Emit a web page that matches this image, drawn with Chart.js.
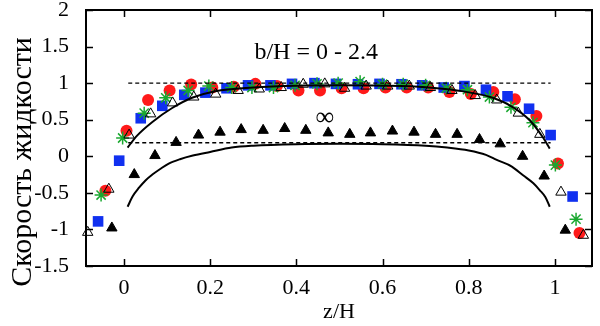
<!DOCTYPE html>
<html lang="ru">
<head>
<meta charset="UTF-8">
<title>Скорость жидкости</title>
<script src="https://cdn.jsdelivr.net/npm/chart.js"></script>
<style>
  html, body { margin: 0; padding: 0; background: #fff; }
</style>
</head>
<body>
<canvas id="grafico" width="600" height="326"></canvas>
<script>
// оси
const xTicks = [0, 0.2, 0.4, 0.6, 0.8, 1];
const yTicks = [-1.5, -1, -0.5, 0, 0.5, 1, 1.5, 2];

// красные кружки
const zRed = [-0.043, 0.006, 0.056, 0.106, 0.156, 0.205, 0.255, 0.305, 0.355, 0.405, 0.455, 0.505,
              0.556, 0.607, 0.656, 0.706, 0.755, 0.805, 0.857, 0.907, 0.957, 1.007, 1.057];
const vRed = [-0.47, 0.35, 0.77, 0.90, 0.98, 0.94, 0.95, 0.99, 0.96, 0.90, 0.90, 0.93,
              0.93, 0.94, 0.94, 0.94, 0.88, 0.85, 0.88, 0.78, 0.55, -0.10, -1.05];

// синие квадраты
const zBlue = [-0.060, -0.011, 0.039, 0.089, 0.140, 0.189, 0.238, 0.288, 0.340, 0.390, 0.442, 0.492,
               0.543, 0.593, 0.644, 0.692, 0.742, 0.790, 0.840, 0.890, 0.940, 0.990, 1.041];
const vBlue = [-0.89, -0.06, 0.52, 0.69, 0.84, 0.87, 0.93, 0.97, 0.97, 0.99, 1.00, 0.99,
               0.985, 0.99, 0.985, 0.97, 0.94, 0.96, 0.91, 0.82, 0.65, 0.29, -0.55];

// зелёные звёздочки
const zGreen = [-0.053, -0.003, 0.047, 0.097, 0.149, 0.197, 0.250, 0.297, 0.347, 0.397, 0.448, 0.497,
                0.548, 0.600, 0.648, 0.700, 0.748, 0.797, 0.848, 0.898, 0.949, 1.001, 1.049];
const vGreen = [-0.53, 0.25, 0.59, 0.80, 0.90, 0.96, 0.94, 0.94, 0.94, 0.97, 0.99, 1.00,
                1.02, 0.985, 0.985, 0.97, 0.93, 0.91, 0.81, 0.67, 0.46, -0.12, -0.86];

// пустые треугольники
const zOpen = [-0.084, -0.035, 0.012, 0.062, 0.113, 0.162, 0.213, 0.265, 0.314, 0.365, 0.416, 0.466,
               0.512, 0.562, 0.612, 0.662, 0.711, 0.761, 0.815, 0.865, 0.915, 0.965, 1.014, 1.066];
const vOpen = [-1.04, -0.45, 0.29, 0.58, 0.73, 0.81, 0.85, 0.90, 0.92, 0.94, 0.985, 0.99,
               0.93, 0.96, 0.96, 0.96, 0.94, 0.90, 0.83, 0.77, 0.59, 0.30, -0.49, -1.08];

// закрашенные треугольники (b/H = ∞)
const zTri = [-0.028, 0.024, 0.072, 0.121, 0.173, 0.223, 0.272, 0.323, 0.373, 0.422, 0.474,
              0.524, 0.572, 0.623, 0.673, 0.723, 0.773, 0.825, 0.873, 0.925, 0.975, 1.024];
const vTri = [-0.98, -0.25, 0.01, 0.19, 0.29, 0.33, 0.365, 0.355, 0.38, 0.355, 0.32,
              0.30, 0.32, 0.345, 0.33, 0.30, 0.30, 0.23, 0.17, 0.0, -0.27, -1.01];

// теория, верхняя кривая
const zUp = [0.0085, 0.03, 0.066, 0.112, 0.158, 0.212, 0.3, 0.4, 0.5, 0.6, 0.7, 0.773, 0.85, 0.903, 0.942, 0.972, 0.988];
const vUp = [0.12, 0.28, 0.47, 0.66, 0.80, 0.89, 0.94, 0.965, 0.97, 0.965, 0.945, 0.90, 0.81, 0.67, 0.49, 0.26, 0.105];

// теория, нижняя кривая
const zLow = [0.0085, 0.02, 0.035, 0.05, 0.066, 0.085, 0.104, 0.13, 0.16, 0.2, 0.25, 0.3, 0.4, 0.5,
              0.6, 0.7, 0.75, 0.8, 0.84, 0.865, 0.9, 0.926, 0.95, 0.965, 0.978, 0.988];
const vLow = [-0.69, -0.55, -0.43, -0.33, -0.25, -0.17, -0.10, -0.04, 0.01, 0.06, 0.12, 0.145, 0.165, 0.17,
              0.165, 0.145, 0.12, 0.08, 0.02, -0.05, -0.14, -0.26, -0.37, -0.465, -0.56, -0.69];

// пунктирные уровни
const zDash = [0.01, 0.99];
const vDash1 = [1, 1];
const vDash2 = [0.185, 0.185];

const pts = (zs, vs) => zs.map((z, i) => ({ x: z, y: vs[i] }));

const ramka = {
  id: 'ramka',
  afterDraw(chart) {
    const { ctx, chartArea: a, scales: { x, y } } = chart;
    ctx.save();
    ctx.strokeStyle = '#000';
    ctx.lineWidth = 1.5;
    ctx.beginPath();
    xTicks.forEach(v => {
      const px = Math.round(x.getPixelForValue(v)) + 0.5;
      ctx.moveTo(px, a.bottom); ctx.lineTo(px, a.bottom - 7);
      ctx.moveTo(px, a.top); ctx.lineTo(px, a.top + 7);
    });
    yTicks.forEach(v => {
      const py = Math.round(y.getPixelForValue(v)) + 0.5;
      ctx.moveTo(a.left, py); ctx.lineTo(a.left + 7, py);
      ctx.moveTo(a.right, py); ctx.lineTo(a.right - 7, py);
    });
    ctx.stroke();
    ctx.lineWidth = 2;
    ctx.strokeRect(a.left, a.top, a.right - a.left, a.bottom - a.top);

    ctx.fillStyle = '#000';
    ctx.textAlign = 'center';
    ctx.textBaseline = 'middle';
    ctx.font = '24px "Liberation Serif"';
    ctx.fillText('b/H = 0 - 2.4', x.getPixelForValue(0.446), y.getPixelForValue(1.42));
    ctx.font = '26px "Liberation Serif"';
    ctx.fillText('∞', x.getPixelForValue(0.466), y.getPixelForValue(0.52));

    ctx.translate(23, 162);
    ctx.rotate(-Math.PI / 2);
    ctx.font = '30px "Liberation Serif"';
    ctx.fillText('Скорость жидкости', 0, 0);
    ctx.restore();
  }
};

const linia = (zs, vs, dash) => ({
  data: pts(zs, vs),
  showLine: true,
  borderColor: '#000',
  borderWidth: dash ? 1.3 : 2,
  borderDash: dash ? [4, 3] : [],
  pointRadius: 0,
  cubicInterpolationMode: 'monotone',
  fill: false
});

const config = {
  type: 'scatter',
  data: {
    datasets: [
      linia(zUp, vUp, false),
      linia(zLow, vLow, false),
      linia(zDash, vDash1, true),
      linia(zDash, vDash2, true),
      {
        data: pts(zTri, vTri), pointStyle: 'triangle', pointRadius: 6,
        backgroundColor: '#000', borderColor: '#000', borderWidth: 1, clip: false
      },
      {
        data: pts(zOpen, vOpen), pointStyle: 'triangle', pointRadius: 6,
        backgroundColor: 'rgba(255,255,255,0)', borderColor: '#000', borderWidth: 1, clip: false
      },
      {
        data: pts(zGreen, vGreen), pointStyle: 'star', pointRadius: 6.5,
        backgroundColor: '#1aa830', borderColor: '#1aa830', borderWidth: 1.5, clip: false
      },
      {
        data: pts(zBlue, vBlue), pointStyle: 'rect', pointRadius: 7.5,
        backgroundColor: '#1030f0', borderColor: '#1030f0', borderWidth: 0, clip: false
      },
      {
        data: pts(zRed, vRed), pointStyle: 'circle', pointRadius: 6,
        backgroundColor: '#ff1a1a', borderColor: '#ff1a1a', borderWidth: 0, clip: false
      }
    ]
  },
  options: {
    responsive: false,
    animation: false,
    layout: { padding: { top: 10, right: 4, left: 0, bottom: 0 } },
    plugins: { legend: { display: false }, tooltip: { enabled: false } },
    scales: {
      x: {
        type: 'linear', min: -0.088, max: 1.086,
        grid: { display: false, drawTicks: false },
        border: { display: false },
        afterBuildTicks: s => { s.ticks = xTicks.map(v => ({ value: v })); },
        afterFit: s => { s.height = 60; s.paddingLeft = 0; s.paddingRight = 0; },
        ticks: {
          padding: 9, color: '#000',
          font: { family: 'Liberation Serif', size: 22 },
          callback: v => String(v)
        },
        title: {
          display: true, text: 'z/H', color: '#000',
          font: { family: 'Liberation Serif', size: 22 },
          padding: { top: 0, bottom: 1 }
        }
      },
      y: {
        type: 'linear', min: -1.5, max: 2,
        grid: { display: false, drawTicks: false },
        border: { display: false },
        afterBuildTicks: s => { s.ticks = yTicks.map(v => ({ value: v })); },
        afterFit: s => { s.width = 86; s.paddingTop = 0; s.paddingBottom = 0; },
        ticks: {
          padding: 17, color: '#000',
          font: { family: 'Liberation Serif', size: 22 },
          callback: v => String(v)
        }
      }
    }
  },
  plugins: [ramka]
};

new Chart(document.getElementById('grafico').getContext('2d'), config);
</script>
</body>
</html>
